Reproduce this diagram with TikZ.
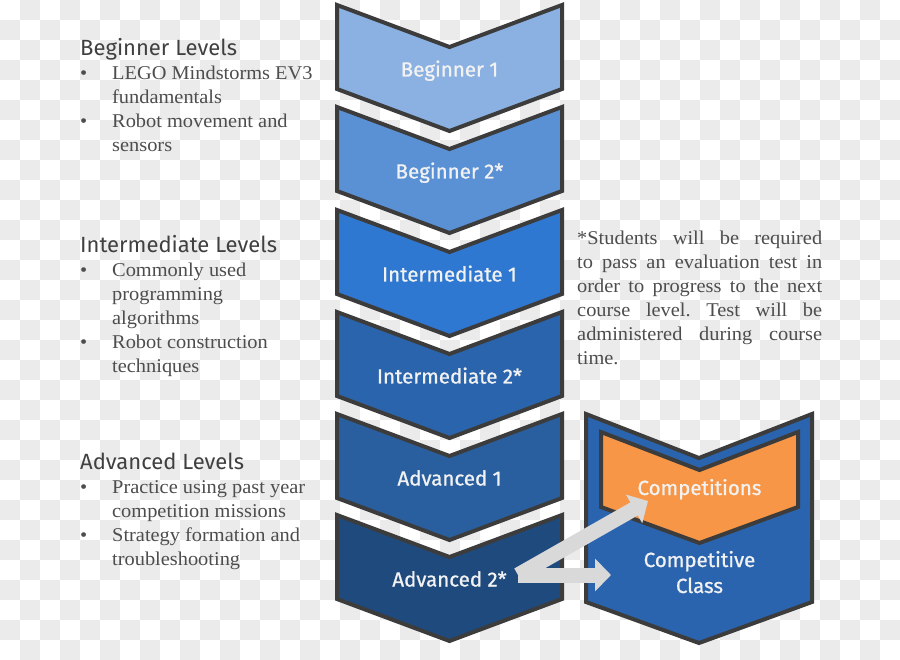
\documentclass[tikz,border=0pt]{standalone}
\usepackage{fontspec}
\setmainfont[FakeStretch=1.045]{Liberation Serif}
\newfontfamily\firafont{Fira Sans}
\newfontfamily\firabold[FakeBold=0.9]{Fira Sans}
\usetikzlibrary{arrows.meta}
\definecolor{checkgray}{HTML}{EBEBEB}
\definecolor{chevline}{HTML}{3C3C3C}
\definecolor{cBa}{HTML}{8AB1E2}
\definecolor{cBb}{HTML}{5A91D5}
\definecolor{cIa}{HTML}{2F78D2}
\definecolor{cIb}{HTML}{2A64AC}
\definecolor{cAa}{HTML}{2A5F9F}
\definecolor{cAb}{HTML}{1F4A7E}
\definecolor{compblue}{HTML}{2B64AE}
\definecolor{comporange}{HTML}{F79646}
\definecolor{labwhite}{HTML}{F2F2F2}
\definecolor{headgray}{HTML}{404040}
\definecolor{bodygray}{HTML}{4D4D4D}
\definecolor{arrowgray}{HTML}{D9D9D9}
\newcommand\headfnt{\firafont\fontsize{22}{24}\selectfont\color{headgray}}
\newcommand\bul{\makebox[32pt][l]{\textbullet}}
\frenchspacing
\begin{document}
\begin{tikzpicture}[x=1pt,y=-1pt,
  chev/.style={draw=chevline, line width=4pt, line join=miter},
  lab/.style={anchor=base, inner sep=0pt, text=labwhite, font=\firabold\fontsize{20.5}{24}\selectfont},
  block/.style={anchor=base west, inner sep=0pt, text=bodygray, font=\fontsize{19.5}{24}\selectfont},
  note/.style={anchor=base west, text width=245pt, align=justify, inner sep=0pt, text=bodygray, font=\fontsize{19.5}{24}\selectfont},
  garrow/.style={draw=arrowgray, line width=15pt, -{Triangle[length=16pt,width=32pt]}}]
\useasboundingbox (0,0) rectangle (900,660);
\fill[white] (0,0) rectangle (900,660);
\foreach \i in {0,...,44}{\foreach \j in {0,...,32}{%
  \pgfmathparse{int(mod(\i+\j,2))}%
  \ifnum\pgfmathresult=1 \fill[checkgray] (\i*20,\j*20) rectangle ++(20,20);\fi}}
% left texts
\node[block] (begtxt) at (80,56) {\begin{tabular}[t]{@{}l@{}l@{}}\multicolumn{2}{@{}l@{}}{\headfnt Beginner Levels}\\
\bul & LEGO Mindstorms EV3\\ & fundamentals\\ \bul & Robot movement and\\ & sensors\end{tabular}};
\node[block] (inttxt) at (80,253) {\begin{tabular}[t]{@{}l@{}l@{}}\multicolumn{2}{@{}l@{}}{\headfnt Intermediate Levels}\\
\bul & Commonly used\\ & programming\\ & algorithms\\ \bul & Robot construction\\ & techniques\end{tabular}};
\node[block] (advtxt) at (80,469) {\begin{tabular}[t]{@{}l@{}l@{}}\multicolumn{2}{@{}l@{}}{\headfnt Advanced Levels}\\
\bul & Practice using past year\\ & competition missions\\ \bul & Strategy formation and\\ & troubleshooting\end{tabular}};
% note
\node[note] (note) at (577,245) {*Students will be required\linebreak to pass an evaluation test in\linebreak order to progress to the next\linebreak course level. Test will be\linebreak administered during course\linebreak time.};
% chevrons
\foreach \y/\c in {5/cBa,107/cBb,210/cIa,312/cIb,414/cAa,515/cAb}{
  \draw[chev, fill=\c] (337,\y) -- (449.5,\y+42) -- (562,\y) -- (562,\y+84) -- (449.5,\y+126) -- (337,\y+84) -- cycle;}
% competitive class
\draw[chev, fill=compblue] (586,414) -- (699,458) -- (812,414) -- (812,602) -- (699,643) -- (586,602) -- cycle;
\draw[chev, fill=comporange] (601,432) -- (699.5,470) -- (798,432) -- (798,507) -- (699.5,543) -- (601,507) -- cycle;
% arrows
\coordinate (arrS) at (518,575);
\coordinate (arrD) at (648,501);
\coordinate (arrH) at (611,575);
\draw[garrow] (arrS) -- (arrH);
\draw[garrow] (arrS) -- (arrD);
% labels
\node[lab] (b1) at (449.5,76.5) {Beginner 1};
\node[lab] (b2) at (449.5,178.5) {Beginner 2*};
\node[lab] (i1) at (449.5,281.5) {Intermediate 1};
\node[lab] (i2) at (449.5,383.5) {Intermediate 2*};
\node[lab] (a1) at (449.5,485.5) {Advanced 1};
\node[lab] (a2) at (449.5,586.5) {Advanced 2*};
\node[lab] (comp) at (699.5,495) {Competitions};
\node[lab] (cc1) at (699.5,567) {Competitive};
\node[lab] (cc2) at (699.5,593) {Class};
\end{tikzpicture}
\end{document}
